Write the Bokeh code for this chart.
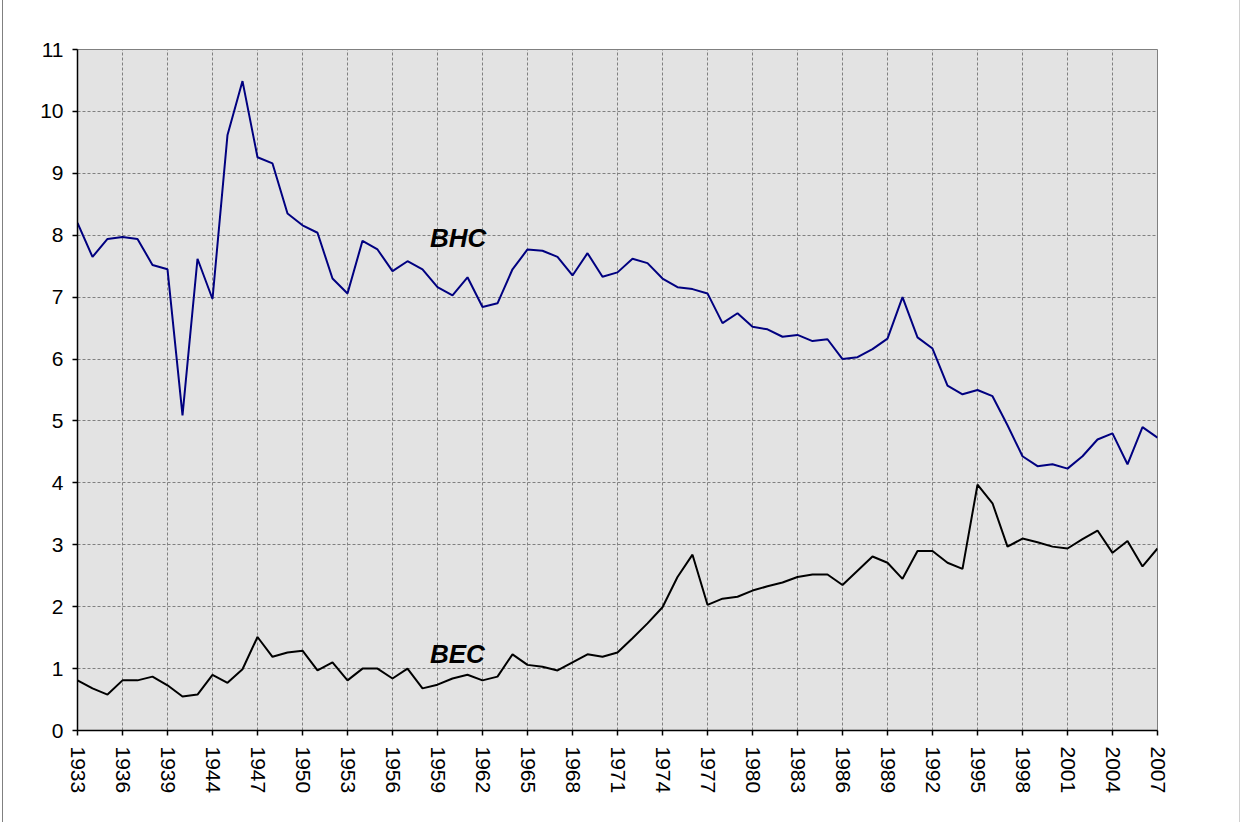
from bokeh.plotting import figure
from bokeh.models import Range1d, FixedTicker, Label, ColumnDataSource
from bokeh.embed import file_html
from bokeh.resources import INLINE

years = ["1933", "1934", "1935", "1936", "1937", "1938", "1939", "1940", "1943",
         "1944", "1945", "1946", "1947", "1948", "1949", "1950", "1951", "1952",
         "1953", "1954", "1955", "1956", "1957", "1958", "1959", "1960", "1961",
         "1962", "1963", "1964", "1965", "1966", "1967", "1968", "1969", "1970",
         "1971", "1972", "1973", "1974", "1975", "1976", "1977", "1978", "1979",
         "1980", "1981", "1982", "1983", "1984", "1985", "1986", "1987", "1988",
         "1989", "1990", "1991", "1992", "1993", "1994", "1995", "1996", "1997",
         "1998", "1999", "2000", "2001", "2002", "2003", "2004", "2005", "2006",
         "2007"]

bhc = [8.20, 7.65, 7.94, 7.97, 7.94, 7.52, 7.45, 5.09, 7.62, 6.97,
       9.62, 10.49, 9.26, 9.16, 8.35, 8.16, 8.04, 7.30, 7.06, 7.91,
       7.77, 7.42, 7.58, 7.45, 7.16, 7.03, 7.32, 6.84, 6.90, 7.45,
       7.77, 7.75, 7.65, 7.35, 7.71, 7.33, 7.40, 7.62, 7.55, 7.30,
       7.16, 7.13, 7.06, 6.58, 6.74, 6.52, 6.48, 6.36, 6.39, 6.29,
       6.32, 6.00, 6.03, 6.16, 6.33, 7.00, 6.35, 6.17, 5.57, 5.43,
       5.50, 5.40, 4.93, 4.43, 4.27, 4.30, 4.23, 4.43, 4.70, 4.80,
       4.30, 4.90, 4.73]

bec = [0.81, 0.68, 0.58, 0.81, 0.81, 0.87, 0.73, 0.55, 0.58, 0.90,
       0.77, 0.99, 1.51, 1.19, 1.26, 1.29, 0.97, 1.10, 0.81, 1.00,
       1.00, 0.84, 1.00, 0.68, 0.74, 0.84, 0.90, 0.81, 0.87, 1.23,
       1.06, 1.03, 0.97, 1.10, 1.23, 1.19, 1.26, 1.49, 1.73, 1.99,
       2.48, 2.84, 2.03, 2.13, 2.16, 2.26, 2.33, 2.39, 2.48, 2.52,
       2.52, 2.35, 2.58, 2.81, 2.71, 2.45, 2.90, 2.90, 2.71, 2.61,
       3.97, 3.67, 2.97, 3.10, 3.04, 2.97, 2.94, 3.09, 3.23, 2.87,
       3.06, 2.65, 2.94]

y_ticks = list(range(0, 12))

idx = list(range(len(years)))
src = ColumnDataSource(dict(x=idx, bhc=bhc, bec=bec))

FONT = "Liberation Sans"

p = figure(width=1238, height=822, output_backend="svg", toolbar_location=None,
           x_range=Range1d(0, len(years) - 1), y_range=Range1d(0, 11),
           min_border_left=74, min_border_right=84, min_border_top=49,
           min_border_bottom=92)
p.styles = {"margin-left": "2px", "border-left": "1px solid #808080",
            "border-right": "1px solid #d0d0d0"}

p.background_fill_color = "#e3e3e3"
p.border_fill_color = "white"
p.outline_line_color = "#808080"
p.outline_line_width = 1

x_tick_idx = idx[::3]
p.xaxis.ticker = FixedTicker(ticks=x_tick_idx)
p.xaxis.major_label_overrides = {i: years[i] for i in x_tick_idx}
p.xaxis.major_label_orientation = "vertical"
p.yaxis.ticker = FixedTicker(ticks=y_ticks)

for ax in (p.xaxis[0], p.yaxis[0]):
    ax.axis_line_color = "black"
    ax.axis_line_width = 1.5
    ax.major_tick_line_color = "black"
    ax.major_tick_line_width = 1.5
    ax.major_tick_out = 5
    ax.major_tick_in = 0
    ax.minor_tick_line_color = None
    ax.major_label_text_font = FONT
    ax.major_label_text_color = "black"

p.xaxis.major_label_text_font_size = "21px"
p.xaxis.major_label_standoff = 11
p.yaxis.major_label_text_font_size = "21px"
p.yaxis.major_label_standoff = 9

for g in (p.xgrid[0], p.ygrid[0]):
    g.grid_line_color = "#808080"
    g.grid_line_dash = "3 2"
    g.grid_line_width = 1

p.xgrid.ticker = FixedTicker(ticks=x_tick_idx)
p.ygrid.ticker = FixedTicker(ticks=y_ticks)

p.line("x", "bhc", source=src, line_color="#000080", line_width=2)
p.line("x", "bec", source=src, line_color="black", line_width=2)

p.add_layout(Label(x=23.5, y=7.96, text="BHC", text_font=FONT,
                   text_font_size="26px", text_font_style="bold italic",
                   text_color="black", text_baseline="alphabetic"))
p.add_layout(Label(x=23.5, y=1.24, text="BEC", text_font=FONT,
                   text_font_size="26px", text_font_style="bold italic",
                   text_color="black", text_baseline="alphabetic"))

open("out.html", "w").write(file_html(p, INLINE))
